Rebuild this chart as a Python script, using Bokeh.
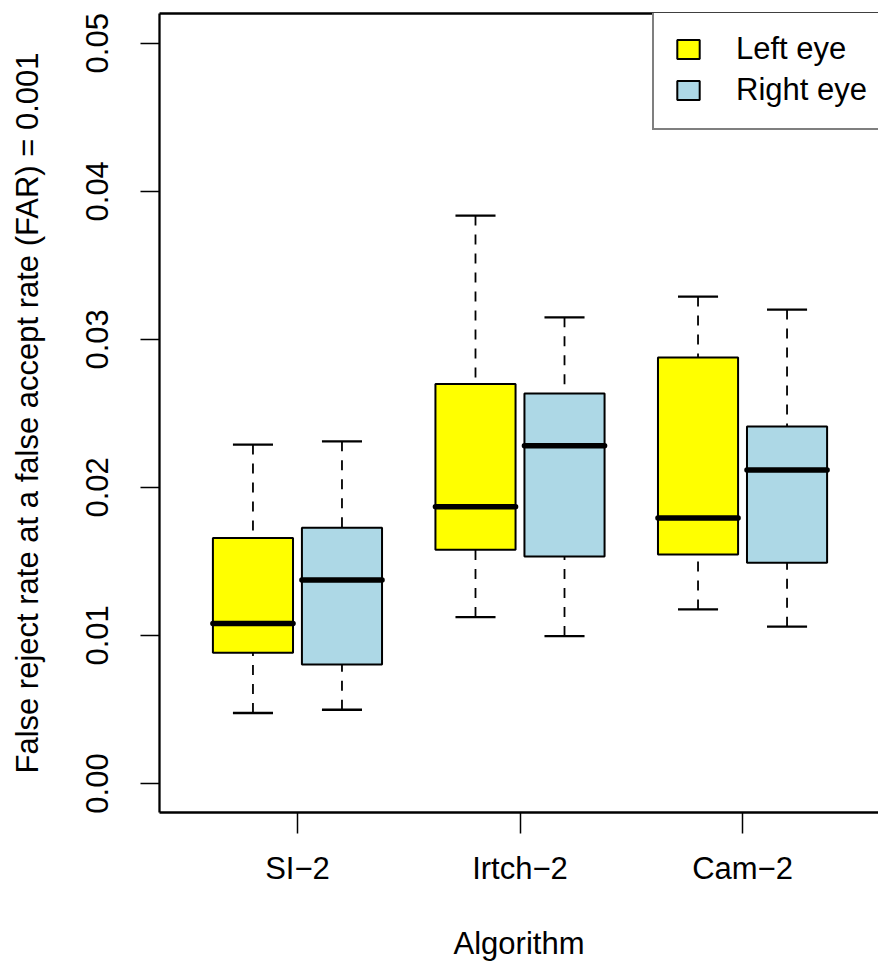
import numpy as np
from bokeh.plotting import figure
from bokeh.models import (Range1d, LinearAxis, FixedTicker, Legend, LegendItem,
                          ColumnDataSource, PrintfTickFormatter)
from bokeh.embed import file_html
from bokeh.resources import INLINE

# ---------------- data ----------------
algorithms = ["SI\u22122", "Irtch\u22122", "Cam\u22122"]
series = ["Left eye", "Right eye"]

left_whisker_low = [0.00476, 0.01124, 0.01176]
left_q1 = [0.00883, 0.01579, 0.01547]
left_median = [0.01081, 0.01870, 0.01793]
left_q3 = [0.01658, 0.02699, 0.02878]
left_whisker_high = [0.02289, 0.03836, 0.03289]

right_whisker_low = [0.00498, 0.00996, 0.01059]
right_q1 = [0.00804, 0.01534, 0.01491]
right_median = [0.01374, 0.02282, 0.02118]
right_q3 = [0.01728, 0.02635, 0.02412]
right_whisker_high = [0.02311, 0.03149, 0.03201]

y_ticks = [0.00, 0.01, 0.02, 0.03, 0.04, 0.05]

# ---------------- style ----------------
FONT = "Liberation Sans"
FS = "31px"
colors = ["#FFFF00", "#ADD8E6"]
offset = 0.2
box_w = 0.36
cap_w = 0.18

p = figure(width=878, height=965, output_backend="svg", toolbar_location=None,
           x_range=Range1d(0.38, 3.611), y_range=Range1d(-0.00196, 0.05201),
           min_border_left=159, min_border_right=0, min_border_top=13,
           min_border_bottom=153)
p.outline_line_color = None
p.grid.visible = False
p.background_fill_color = "white"
p.border_fill_color = "white"

group_x = np.arange(1, len(algorithms) + 1, dtype=float)


def draw(xc, lo, q1, med, q3, hi, color):
    xc = np.asarray(xc, dtype=float)
    src = ColumnDataSource(dict(
        x=xc, lo=lo, q1=q1, med=med, q3=q3, hi=hi,
        left=xc - box_w / 2, right=xc + box_w / 2,
        cl=xc - cap_w / 2, cr=xc + cap_w / 2))
    p.segment(x0="x", y0="hi", x1="x", y1="q3", source=src,
              line_color="black", line_width=1.8, line_dash="10 9")
    p.segment(x0="x", y0="lo", x1="x", y1="q1", source=src,
              line_color="black", line_width=1.8, line_dash="10 9")
    p.segment(x0="cl", y0="hi", x1="cr", y1="hi", source=src,
              line_color="black", line_width=2.3)
    p.segment(x0="cl", y0="lo", x1="cr", y1="lo", source=src,
              line_color="black", line_width=2.3)
    r = p.quad(left="left", right="right", bottom="q1", top="q3", source=src,
               fill_color=color, line_color="black", line_width=2)
    p.segment(x0="left", y0="med", x1="right", y1="med", source=src,
              line_color="black", line_width=5.5, line_cap="round")
    return r


r_left = draw(group_x - offset, left_whisker_low, left_q1, left_median,
              left_q3, left_whisker_high, colors[0])
r_right = draw(group_x + offset, right_whisker_low, right_q1, right_median,
               right_q3, right_whisker_high, colors[1])

# ---------------- axes ----------------
xa = p.xaxis[0]
ya = p.yaxis[0]
xa.ticker = FixedTicker(ticks=list(group_x))
xa.major_label_overrides = {float(g): a for g, a in zip(group_x, algorithms)}
ya.ticker = FixedTicker(ticks=y_ticks)
ya.formatter = PrintfTickFormatter(format="%.2f")

for ax in (xa, ya):
    ax.axis_line_color = "black"
    ax.axis_line_width = 2.3
    ax.major_tick_line_color = "black"
    ax.major_tick_line_width = 1.5
    ax.major_tick_in = 0
    ax.minor_tick_in = 0
    ax.minor_tick_out = 0
    ax.major_label_text_font = FONT
    ax.major_label_text_font_size = FS
    ax.major_label_text_color = "black"
    ax.axis_label_text_font = FONT
    ax.axis_label_text_font_size = FS
    ax.axis_label_text_font_style = "normal"
    ax.axis_label_text_color = "black"

xa.major_tick_out = 21
ya.major_tick_out = 19
xa.major_label_standoff = 17
ya.major_label_standoff = 32
ya.major_label_orientation = "vertical"
xa.axis_label = "Algorithm"
xa.axis_label_standoff = 37
ya.axis_label = "False reject rate at a false accept rate (FAR) = 0.001"
ya.axis_label_standoff = 39

top_axis = LinearAxis(ticker=FixedTicker(ticks=[]), axis_line_color="black",
                      axis_line_width=2.3, major_tick_out=0, major_tick_in=0,
                      minor_tick_out=0, minor_tick_in=0,
                      major_label_text_font_size="0px")
p.add_layout(top_axis, "above")

# ---------------- legend ----------------
legend = Legend(
    items=[LegendItem(label=series[0], renderers=[r_left]),
           LegendItem(label=series[1], renderers=[r_right])],
    location=(493, 682), orientation="vertical", padding=20, spacing=5,
    margin=0, glyph_width=28, glyph_height=24, label_height=36,
    label_width=230, label_standoff=34, label_text_font=FONT,
    label_text_font_size=FS, label_text_color="black",
    border_line_color="black", border_line_width=2,
    background_fill_color="white", background_fill_alpha=1.0)
p.add_layout(legend)

open("out.html", "w").write(file_html(p, INLINE))
